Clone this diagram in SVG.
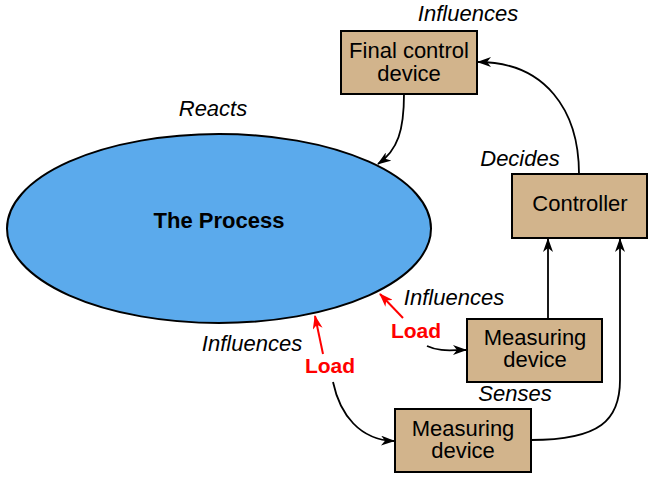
<svg xmlns="http://www.w3.org/2000/svg" width="654" height="480" viewBox="0 0 654 480">
<defs>
<style>
.box{fill:#D2B48C;stroke:#000;stroke-width:2}
.t{font-family:"Liberation Sans",Arial,sans-serif;font-size:22px;fill:#000;text-anchor:middle}
.i{font-family:"Liberation Sans",Arial,sans-serif;font-size:22px;font-style:italic;fill:#000;text-anchor:middle}
.load{font-family:"Liberation Sans",Arial,sans-serif;font-size:21px;font-weight:bold;fill:#FF0000;text-anchor:middle}
.c{fill:none;stroke:#000;stroke-width:1.8}
.r{fill:none;stroke:#FF0000;stroke-width:2}
</style>
<marker id="ah" viewBox="0 0 14 10" refX="13" refY="5" markerWidth="14" markerHeight="10" markerUnits="userSpaceOnUse" orient="auto">
<path d="M0,0 L14,5 L0,10 L4,5 Z" fill="#000"/>
</marker>
<marker id="ahr" viewBox="0 0 14 10" refX="13" refY="5" markerWidth="14" markerHeight="10" markerUnits="userSpaceOnUse" orient="auto">
<path d="M0,0 L14,5 L0,10 L4,5 Z" fill="#FF0000"/>
</marker>
</defs>
<rect width="654" height="480" fill="#fff"/>
<g id="process">
<ellipse cx="219" cy="228.5" rx="212" ry="94.5" fill="#5BAAEC" stroke="#000" stroke-width="2"/>
<text class="t" x="219" y="228" font-weight="bold" font-size="22.5">The Process</text>
</g>
<g id="final-control">
<rect class="box" x="341" y="31" width="136" height="63"/>
<text class="t" x="409" y="58">Final control</text>
<text class="t" x="409" y="81">device</text>
</g>
<g id="controller">
<rect class="box" x="512" y="174" width="135" height="64"/>
<text class="t" x="580" y="211">Controller</text>
</g>
<g id="measuring1">
<rect class="box" x="467" y="319" width="135" height="63"/>
<text class="t" x="535" y="345">Measuring</text>
<text class="t" x="535" y="367">device</text>
</g>
<g id="measuring2">
<rect class="box" x="395" y="409" width="136" height="63"/>
<text class="t" x="463" y="436">Measuring</text>
<text class="t" x="463" y="458">device</text>
</g>
<g id="connectors">
<path class="c" d="M404,94 C404,130 398,150 378,164" marker-end="url(#ah)"/>
<path class="c" d="M579,174 C579,110 545,62 478,62" marker-end="url(#ah)"/>
<path class="c" d="M548,319 L548,239" marker-end="url(#ah)"/>
<path class="c" d="M531,440 C600,440 620,420 620,380 L620,239" marker-end="url(#ah)"/>
<path class="c" d="M427,346 C440,352 450,350 466,350" marker-end="url(#ah)"/>
<path class="c" d="M333,382 C340,415 360,440 394,441" marker-end="url(#ah)"/>
<path class="r" d="M403,318 L380,294" marker-end="url(#ahr)"/>
<path class="r" d="M323,354 L315,316" marker-end="url(#ahr)"/>
</g>
<g id="labels">
<text class="i" x="468" y="21">Influences</text>
<text class="i" x="213" y="116">Reacts</text>
<text class="i" x="520" y="166">Decides</text>
<text class="i" x="454" y="305">Influences</text>
<text class="i" x="252" y="351">Influences</text>
<text class="i" x="515" y="401">Senses</text>
<text class="load" x="416" y="338">Load</text>
<text class="load" x="330" y="373">Load</text>
</g>
</svg>
